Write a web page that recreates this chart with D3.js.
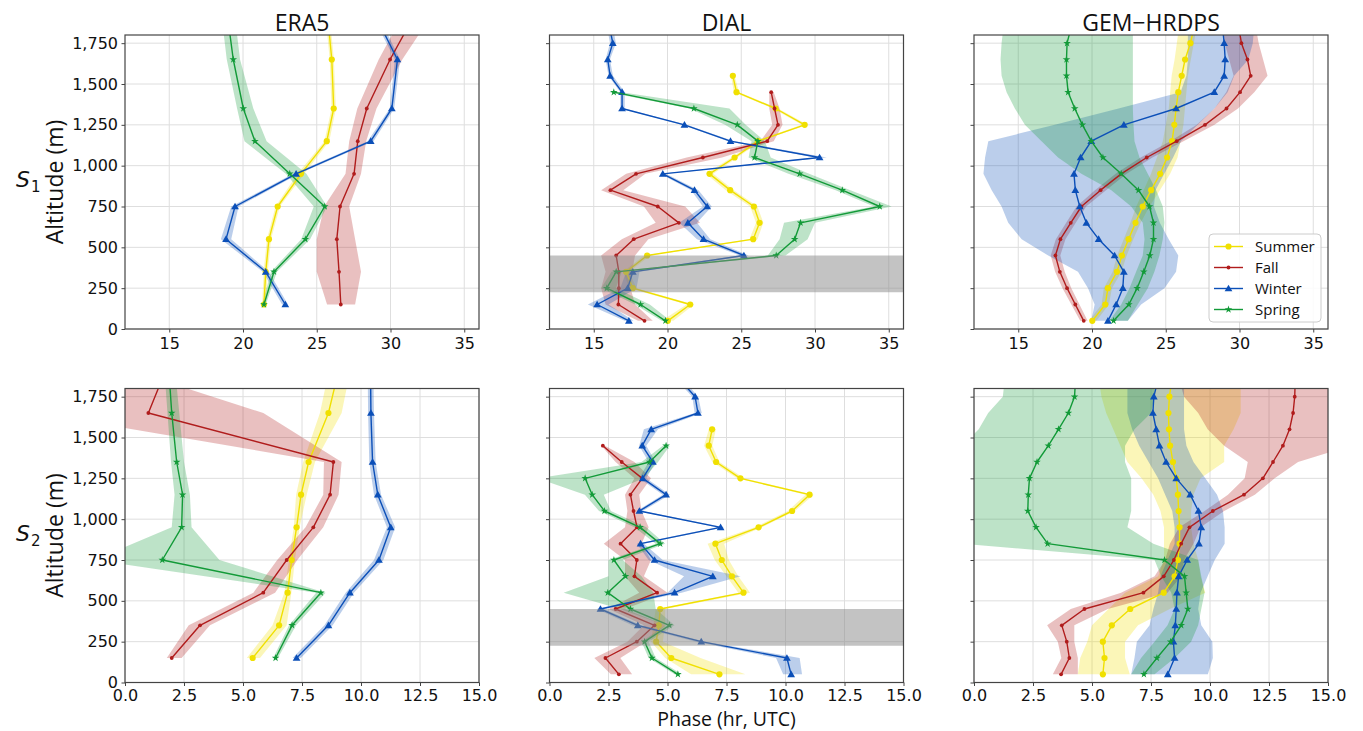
<!DOCTYPE html>
<html>
<head>
<meta charset="utf-8">
<script src="https://cdn.jsdelivr.net/npm/d3@7"></script>
<style>
  body { margin: 0; background: #ffffff; }
  svg { display: block; }
</style>
</head>
<body>
<svg id="chart" width="1363" height="731"></svg>
<script>
// ---- Labels and ticks ----
const seasons = ["Summer", "Fall", "Winter", "Spring"];
const seasonColors = ["#f0e000", "#b01c1c", "#0b4fb8", "#129a38"];
const columnTitles = ["ERA5", "DIAL", "GEM\u2212HRDPS"];
const rowNames = ["1", "2"];
const altitudeTicks = [0, 250, 500, 750, 1000, 1250, 1500, 1750];
const topPhaseTicks = [15, 20, 25, 30, 35];
const bottomPhaseTicks = [0, 2.5, 5, 7.5, 10, 12.5, 15];
const topPhaseDomain = [12, 36];
const bottomPhaseDomain = [0, 15];
const altitudeDomain = [0, 1800];
const dialGapLayer = [225, 450];

// ---- Profiles: each row is [altitude (m), phase, band low, band high] ----
// S1, ERA5
const era5S1Summer = [[150,21.42,21.3,21.55],[350,21.54,21.4,21.68],[550,21.76,21.62,21.9],[750,22.35,22.2,22.5],[950,23.93,23.7,24.15],[1150,25.68,25.52,25.85],[1350,26.15,26.0,26.3],[1650,26.02,25.88,26.16],[1950,25.7,25.55,25.85]];
const era5S1Fall = [[150,26.63,25.7,27.6],[350,26.51,25.0,28.0],[550,26.36,25.0,27.6],[750,26.58,25.5,27.2],[950,27.53,26.95,28.0],[1150,27.78,27.2,28.35],[1350,28.39,27.75,29.05],[1650,29.97,29.2,30.8],[1950,31.8,31.0,33.0]];
const era5S1Winter = [[150,22.87,22.65,23.05],[350,21.54,21.35,21.75],[550,18.85,18.5,19.2],[750,19.46,19.2,19.7],[950,23.6,23.4,23.8],[1150,28.66,28.45,28.85],[1350,30.09,29.95,30.25],[1650,30.47,30.3,30.65],[1950,28.8,28.6,29.0]];
const era5S1Spring = [[150,21.42,21.3,21.55],[350,22.1,21.9,22.3],[550,24.23,23.95,24.55],[750,25.54,24.8,25.7],[950,23.17,22.9,24.3],[1150,20.81,20.1,21.6],[1350,20.02,19.6,20.7],[1650,19.34,18.9,19.8],[1950,18.9,18.5,19.4]];
// S1, DIAL
const dialS1Summer = [[50,20.02,19.6,20.4],[150,21.54,21.3,21.8],[250,17.65,17.4,17.9],[350,17.19,17.0,17.4],[450,18.62,18.4,18.85],[550,25.81,25.55,26.1],[650,26.24,26.0,26.5],[750,25.86,25.6,26.1],[850,24.25,23.95,24.5],[950,22.85,22.6,23.1],[1050,24.55,24.35,24.75],[1150,26.13,25.95,26.3],[1250,29.3,29.1,29.5],[1350,27.33,27.15,27.5],[1450,24.68,24.5,24.85],[1550,24.43,24.3,24.55]];
const dialS1Fall = [[50,18.44,18.0,19.0],[150,16.67,15.8,17.8],[250,16.7,15.5,17.5],[350,16.7,15.8,17.6],[450,16.52,15.5,17.8],[550,17.71,16.9,18.7],[650,20.77,19.2,22.2],[750,19.34,18.4,21.2],[850,16.13,15.5,17.0],[950,17.87,17.2,18.5],[1050,22.4,21.3,23.7],[1150,26.76,26.3,27.2],[1250,27.49,27.1,27.8],[1350,27.26,26.9,27.6],[1450,27.03,26.9,27.2]];
const dialS1Winter = [[50,17.38,17.1,17.7],[150,15.23,14.6,16.0],[250,17.3,16.8,17.9],[350,17.65,17.2,18.1],[450,25.18,24.9,25.5],[550,22.44,22.0,22.9],[650,21.38,20.8,22.0],[750,22.69,22.4,23.0],[850,21.83,21.6,22.1],[950,19.68,19.5,19.9],[1050,30.31,30.0,30.8],[1150,24.27,24.1,24.5],[1250,21.15,21.0,21.3],[1350,16.92,16.8,17.1],[1450,16.92,16.8,17.1],[1550,16.11,16.0,16.3],[1650,15.95,15.8,16.1],[1750,16.29,16.1,16.5],[1850,16.07,15.9,16.3]];
const dialS1Spring = [[50,19.86,19.6,20.2],[150,18.17,17.8,18.8],[250,15.88,15.5,16.5],[350,16.52,16.2,16.9],[450,27.37,26.8,28.0],[550,28.62,27.6,29.5],[650,29.02,27.9,30.0],[750,34.39,34.0,35.2],[850,31.85,31.4,32.4],[950,28.96,28.2,29.6],[1050,25.9,25.5,27.0],[1150,26.13,25.7,26.6],[1250,24.73,23.9,25.3],[1350,21.79,21.5,24.2],[1450,16.36,16.0,16.9]];
// S1, GEM-HRDPS
const gemS1Summer = [[50,20.02,19.8,20.3],[150,20.9,20.65,21.15],[250,21.08,20.8,21.35],[350,21.69,21.4,22.0],[450,22.03,21.7,22.35],[550,22.48,22.15,22.8],[650,22.95,22.6,23.3],[750,23.44,23.0,23.9],[850,24.01,23.5,24.6],[950,24.62,24.0,25.3],[1050,25.09,24.4,25.8],[1150,25.43,24.8,26.0],[1250,25.58,25.0,26.2],[1350,25.7,25.2,26.3],[1450,25.85,25.3,26.4],[1550,26.08,25.4,26.5],[1650,26.31,25.6,26.7],[1750,26.67,25.75,26.9],[1850,26.93,25.9,27.1]];
const gemS1Fall = [[50,19.44,19.2,19.7],[150,18.87,18.6,19.15],[250,18.31,18.0,18.6],[350,17.82,17.5,18.15],[450,17.52,17.2,17.85],[550,17.86,17.55,18.2],[650,18.56,18.25,18.9],[750,19.28,18.95,19.6],[850,20.58,20.2,20.95],[950,21.98,21.6,22.35],[1050,23.71,23.3,24.1],[1150,25.74,25.3,26.2],[1250,27.66,27.1,28.3],[1350,29.12,28.3,29.9],[1450,30.04,29.1,31.0],[1550,30.76,29.6,31.9],[1650,30.54,29.3,31.6],[1750,30.13,29.0,31.3],[1850,29.95,28.9,31.1]];
const gemS1Winter = [[50,21.08,19.95,22.43],[150,21.64,20.18,23.33],[250,22.09,19.73,24.91],[350,22.16,19.05,25.7],[450,21.53,17.03,25.85],[550,20.45,15.23,25.2],[650,19.62,14.32,24.6],[750,19.17,13.87,24.2],[850,18.87,13.2,24.3],[950,18.78,12.64,24.9],[1050,19.23,12.75,25.5],[1150,19.95,12.97,26.03],[1250,22.16,17.48,27.16],[1350,25.7,21.8,28.3],[1450,28.29,26.0,29.19],[1550,28.96,26.4,29.64],[1650,29.03,26.5,30.6],[1750,28.96,26.5,30.9],[1850,28.85,26.5,31.0]];
const gemS1Spring = [[50,21.46,21.19,22.43],[150,22.5,21.98,23.1],[250,23.06,22.54,23.78],[350,23.51,22.99,24.23],[450,23.92,23.44,24.57],[550,24.17,23.56,24.8],[650,24.17,23.44,24.91],[750,23.9,22.66,24.8],[850,23.15,21.31,24.35],[950,21.98,19.28,23.78],[1050,20.74,17.7,23.22],[1150,19.95,16.58,22.88],[1250,19.35,15.45,22.81],[1350,18.83,14.77,22.77],[1450,18.38,14.21,22.77],[1550,18.27,13.87,22.77],[1650,18.27,13.8,22.77],[1750,18.31,13.87,22.77],[1850,18.59,14.0,22.77]];
// S2, ERA5
const era5S2Summer = [[150,5.41,5.16,5.72],[350,6.53,6.25,6.85],[550,6.89,6.75,7.05],[750,7.06,6.95,7.2],[950,7.27,7.15,7.4],[1150,7.46,7.25,7.7],[1350,7.78,7.55,8.05],[1650,8.62,8.26,9.18],[1950,9.12,8.7,9.6]];
const era5S2Fall = [[150,1.98,1.77,2.4],[350,3.18,2.7,3.6],[550,5.86,5.44,6.36],[750,6.85,6.45,7.3],[950,7.98,7.65,8.4],[1150,8.69,8.4,9.05],[1350,8.83,8.43,9.18],[1650,0.99,-3.7,5.86],[1950,1.83,-6.0,-0.6]];
const era5S2Winter = [[150,7.27,7.1,7.45],[350,8.62,8.45,8.8],[550,9.53,9.35,9.7],[750,10.76,10.55,10.95],[950,11.26,11.1,11.45],[1150,10.71,10.55,10.85],[1350,10.49,10.35,10.62],[1650,10.42,10.3,10.55],[1950,10.4,10.28,10.52]];
const era5S2Spring = [[150,6.38,6.28,6.48],[350,7.08,6.95,7.25],[550,8.3,8.1,8.5],[750,1.58,-1.3,4.0],[950,2.4,1.98,2.82],[1150,2.44,2.1,2.75],[1350,2.19,1.95,2.5],[1650,1.98,1.8,2.3],[1950,1.84,1.65,2.1]];
// S2, DIAL
const dialS2Summer = [[50,7.2,6.0,8.3],[150,5.16,4.9,6.4],[250,4.52,4.3,4.8],[350,4.63,4.4,4.9],[450,4.69,4.5,4.9],[550,8.22,8.0,8.5],[650,7.73,7.5,8.0],[750,7.3,7.0,7.6],[850,7.03,6.7,7.4],[950,8.86,8.7,9.0],[1050,10.28,10.1,10.4],[1150,11.02,10.85,11.2],[1250,8.09,7.95,8.25],[1350,7.06,6.9,7.2],[1450,6.75,6.55,6.9],[1550,6.89,6.75,7.05]];
const dialS2Fall = [[50,2.94,2.6,3.5],[150,2.37,1.9,3.0],[250,3.7,3.3,4.1],[350,4.45,4.0,4.9],[450,2.8,2.5,3.2],[550,4.56,3.8,5.0],[650,3.6,3.2,4.0],[750,3.7,3.2,4.3],[850,3.01,2.3,3.9],[950,3.71,3.2,4.2],[1050,3.56,3.3,3.9],[1150,3.43,3.2,3.8],[1250,3.93,3.6,4.3],[1350,3.06,2.8,3.6],[1450,2.26,2.2,2.35]];
const dialS2Winter = [[50,10.24,9.9,10.7],[150,10.06,9.6,10.6],[250,6.43,6.2,6.6],[350,3.74,3.5,3.9],[450,2.16,2.0,2.3],[550,5.3,5.0,5.6],[650,6.92,5.7,8.1],[750,4.45,4.2,4.8],[850,3.86,3.7,4.0],[950,7.25,7.1,7.4],[1050,3.81,3.7,3.95],[1150,4.94,4.8,5.1],[1250,3.95,3.8,4.1],[1350,4.38,4.2,4.5],[1450,3.93,3.8,4.1],[1550,4.31,4.0,4.6],[1650,6.29,6.15,6.45],[1750,6.17,6.05,6.3],[1850,5.55,5.4,5.7]];
const dialS2Spring = [[50,5.44,5.3,5.6],[150,4.34,4.2,4.5],[250,4.03,3.9,4.2],[350,5.08,4.9,5.3],[450,3.43,3.0,4.5],[550,2.47,0.6,4.4],[650,3.22,2.5,3.9],[750,2.73,2.5,3.1],[850,4.69,4.5,4.9],[950,3.84,3.6,4.1],[1050,2.33,2.1,2.6],[1150,1.81,1.5,2.3],[1250,1.51,-0.5,4.0],[1350,4.24,3.9,4.6],[1450,4.94,4.8,5.1]];
// S2, GEM-HRDPS
const gemS2Summer = [[50,5.46,4.4,6.6],[150,5.53,4.5,6.4],[250,5.46,4.8,6.4],[350,5.84,5.0,6.95],[450,6.62,5.7,8.3],[550,8.04,6.4,9.8],[650,8.5,7.8,9.6],[750,8.64,8.05,9.5],[850,8.71,8.05,9.3],[950,8.71,8.05,9.2],[1050,8.67,7.9,9.2],[1150,8.64,7.6,9.3],[1250,8.57,7.1,9.6],[1350,8.43,6.5,10.6],[1450,8.31,6.2,10.6],[1550,8.26,5.9,11.0],[1650,8.24,5.6,11.3],[1750,8.28,5.4,11.3],[1850,8.38,5.3,11.3]];
const gemS2Fall = [[50,3.69,3.34,4.4],[150,4.04,3.7,4.4],[250,3.93,3.55,4.25],[350,3.72,3.1,4.25],[450,4.68,4.1,5.67],[550,7.18,6.23,8.2],[650,8.04,7.65,8.78],[750,8.47,8.1,8.9],[850,8.78,8.3,9.3],[950,9.13,8.7,9.6],[1050,10.12,9.77,10.6],[1150,11.44,10.76,11.9],[1250,12.24,11.47,12.74],[1350,12.67,11.6,13.73],[1450,13.09,10.6,16.0],[1550,13.37,9.9,16.0],[1650,13.52,9.5,16.0],[1750,13.59,8.9,16.0],[1850,13.61,8.7,16.0]];
const gemS2Winter = [[50,8.21,6.66,9.91],[150,8.5,6.8,10.12],[250,8.45,6.9,10.1],[350,8.53,7.44,9.63],[450,8.57,7.6,9.5],[550,8.6,7.8,9.6],[650,8.67,7.9,9.9],[750,9.03,8.2,10.2],[850,9.53,8.5,10.62],[950,9.63,8.5,10.62],[1050,9.51,8.4,10.55],[1150,9.16,8.1,10.3],[1250,8.57,7.8,9.8],[1350,8.14,7.4,9.3],[1450,7.86,7.0,9.0],[1550,7.72,6.7,8.9],[1650,7.58,6.5,8.9],[1750,7.62,6.5,8.9],[1850,7.79,6.5,8.9]];
const gemS2Spring = [[50,7.2,6.66,7.65],[150,7.75,7.08,8.5],[250,8.33,7.65,9.2],[350,8.78,8.2,9.5],[450,9.06,8.5,9.63],[550,8.99,8.36,9.77],[650,8.92,7.93,9.63],[750,8.07,7.65,9.5],[850,3.12,-0.5,7.6],[950,2.63,-0.5,6.5],[1050,2.28,-0.5,6.66],[1150,2.3,-0.5,6.66],[1250,2.35,-0.5,6.66],[1350,2.67,-0.5,6.4],[1450,3.15,-0.5,6.4],[1550,3.58,0.2,6.8],[1650,4.0,0.6,7.5],[1750,4.26,1.22,7.65],[1850,4.3,1.3,7.65]];

// ---- Panel grid ----
const panels = [
  { row: 0, col: 0, series: [era5S1Summer, era5S1Fall, era5S1Winter, era5S1Spring] },
  { row: 0, col: 1, series: [dialS1Summer, dialS1Fall, dialS1Winter, dialS1Spring], gap: true },
  { row: 0, col: 2, series: [gemS1Summer, gemS1Fall, gemS1Winter, gemS1Spring], legend: true },
  { row: 1, col: 0, series: [era5S2Summer, era5S2Fall, era5S2Winter, era5S2Spring] },
  { row: 1, col: 1, series: [dialS2Summer, dialS2Fall, dialS2Winter, dialS2Spring], gap: true },
  { row: 1, col: 2, series: [gemS2Summer, gemS2Fall, gemS2Winter, gemS2Spring] }
];

const colLeft = [125, 549.5, 974];
const rowTop = [35, 388.5];
const panelW = 354, panelH = 294;
const tickFont = "'DejaVu Sans', sans-serif";
const labelFont = "'Open Sans', 'DejaVu Sans', sans-serif";

const svg = d3.select("#chart");
const defs = svg.append("defs");

// marker drawing for one season
function drawMarker(sel, k, cx, cy) {
  const c = seasonColors[k];
  if (k === 0) {
    sel.append("circle").attr("cx", cx).attr("cy", cy).attr("r", 3.1).attr("fill", c);
  } else if (k === 1) {
    sel.append("circle").attr("cx", cx).attr("cy", cy).attr("r", 1.9).attr("fill", c);
  } else if (k === 2) {
    sel.append("path").attr("d", d3.symbol(d3.symbolTriangle, 26)())
      .attr("transform", `translate(${cx},${cy + 0.6})`).attr("fill", c);
  } else {
    sel.append("path").attr("d", d3.symbol(d3.symbolStar, 18)())
      .attr("transform", `translate(${cx},${cy})`).attr("fill", c);
  }
}

panels.forEach((p, i) => {
  const x0 = colLeft[p.col], y0 = rowTop[p.row];
  const xTicks = p.row === 0 ? topPhaseTicks : bottomPhaseTicks;
  const x = d3.scaleLinear().domain(p.row === 0 ? topPhaseDomain : bottomPhaseDomain).range([x0, x0 + panelW]);
  const y = d3.scaleLinear().domain(altitudeDomain).range([y0 + panelH, y0]);

  defs.append("clipPath").attr("id", "clip" + i)
    .append("rect").attr("x", x0).attr("y", y0).attr("width", panelW).attr("height", panelH);

  const g = svg.append("g");

  // grid
  const grid = g.append("g").attr("stroke", "#dedede").attr("stroke-width", 1);
  grid.selectAll("line.v").data(xTicks).join("line").attr("class", "v")
    .attr("x1", d => x(d)).attr("x2", d => x(d)).attr("y1", y0).attr("y2", y0 + panelH);
  grid.selectAll("line.h").data(altitudeTicks).join("line").attr("class", "h")
    .attr("x1", x0).attr("x2", x0 + panelW).attr("y1", d => y(d)).attr("y2", d => y(d));

  const plot = g.append("g").attr("clip-path", `url(#clip${i})`);

  // spread bands
  const band = d3.area().y(d => y(d[0])).x0(d => x(d[2])).x1(d => x(d[3]));
  p.series.forEach((s, k) => {
    plot.append("path").datum(s).attr("d", band)
      .attr("fill", seasonColors[k]).attr("fill-opacity", 0.28).attr("stroke", "none");
  });

  // profiles with markers
  const line = d3.line().x(d => x(d[1])).y(d => y(d[0]));
  p.series.forEach((s, k) => {
    plot.append("path").datum(s).attr("d", line)
      .attr("fill", "none").attr("stroke", seasonColors[k]).attr("stroke-width", 1.4)
      .attr("stroke-linejoin", "round");
    const mk = plot.append("g");
    s.forEach(d => drawMarker(mk, k, x(d[1]), y(d[0])));
  });

  // layer without lidar retrievals
  if (p.gap) {
    plot.append("rect").attr("x", x0).attr("width", panelW)
      .attr("y", y(dialGapLayer[1])).attr("height", y(dialGapLayer[0]) - y(dialGapLayer[1]))
      .attr("fill", "#888888").attr("fill-opacity", 0.5);
  }

  // axes
  const xAxis = d3.axisBottom(x).tickValues(xTicks).tickSize(3.5).tickPadding(p.row === 0 ? 5 : 3.5)
    .tickFormat(p.row === 0 ? d3.format("d") : d3.format(".1f"));
  const yAxis = d3.axisLeft(y).tickValues(altitudeTicks).tickSize(3.5).tickPadding(3.5)
    .tickFormat(p.col === 0 ? d3.format(",") : () => "");
  [g.append("g").attr("transform", `translate(0,${y0 + panelH})`).call(xAxis),
   g.append("g").attr("transform", `translate(${x0},0)`).call(yAxis)].forEach(a => {
    a.select(".domain").remove();
    a.selectAll(".tick line").attr("stroke", "#444").attr("stroke-width", 1);
    a.selectAll(".tick text").attr("fill", "#111").style("font-family", tickFont).style("font-size", "16px");
  });

  // frame
  g.append("rect").attr("x", x0).attr("y", y0).attr("width", panelW).attr("height", panelH)
    .attr("fill", "none").attr("stroke", "#444").attr("stroke-width", 1.2);

  if (p.row === 0) {
    svg.append("text").attr("x", x0 + panelW / 2).attr("y", 31).attr("text-anchor", "middle")
      .style("font-family", labelFont).style("font-size", "23px").attr("fill", "#111")
      .text(columnTitles[p.col]);
  }

  if (p.col === 0) {
    const cy = y0 + panelH / 2;
    svg.append("text").attr("transform", `translate(63,${cy}) rotate(-90)`).attr("text-anchor", "middle")
      .style("font-family", labelFont).style("font-size", "23px").attr("fill", "#111")
      .text("Altitude (m)");
    const s = svg.append("text").attr("x", 16).attr("y", cy + 5)
      .style("font-family", tickFont).style("font-size", "22px").attr("fill", "#111");
    s.append("tspan").style("font-style", "italic").text("S");
    s.append("tspan").attr("dy", 5).attr("dx", 1).style("font-size", "15px").text(rowNames[p.row]);
  }

  if (p.legend) {
    const lx = 1209, ly = 234;
    const lg = svg.append("g");
    lg.append("rect").attr("x", lx).attr("y", ly).attr("width", 112).attr("height", 88).attr("rx", 4)
      .attr("fill", "#ffffff").attr("fill-opacity", 0.85).attr("stroke", "#cccccc").attr("stroke-width", 1);
    seasons.forEach((name, k) => {
      const yy = ly + 12.5 + k * 21;
      lg.append("line").attr("x1", lx + 5).attr("x2", lx + 34).attr("y1", yy).attr("y2", yy)
        .attr("stroke", seasonColors[k]).attr("stroke-width", 1.4);
      drawMarker(lg, k, lx + 19.5, yy);
      lg.append("text").attr("x", lx + 46).attr("y", yy).attr("dy", "0.35em")
        .style("font-family", labelFont).style("font-size", "15px").attr("fill", "#111").text(name);
    });
  }
});

svg.append("text").attr("x", colLeft[1] + panelW / 2).attr("y", 725.5).attr("text-anchor", "middle")
  .style("font-family", labelFont).style("font-size", "19.5px").attr("fill", "#111")
  .text("Phase (hr, UTC)");
</script>
</body>
</html>
